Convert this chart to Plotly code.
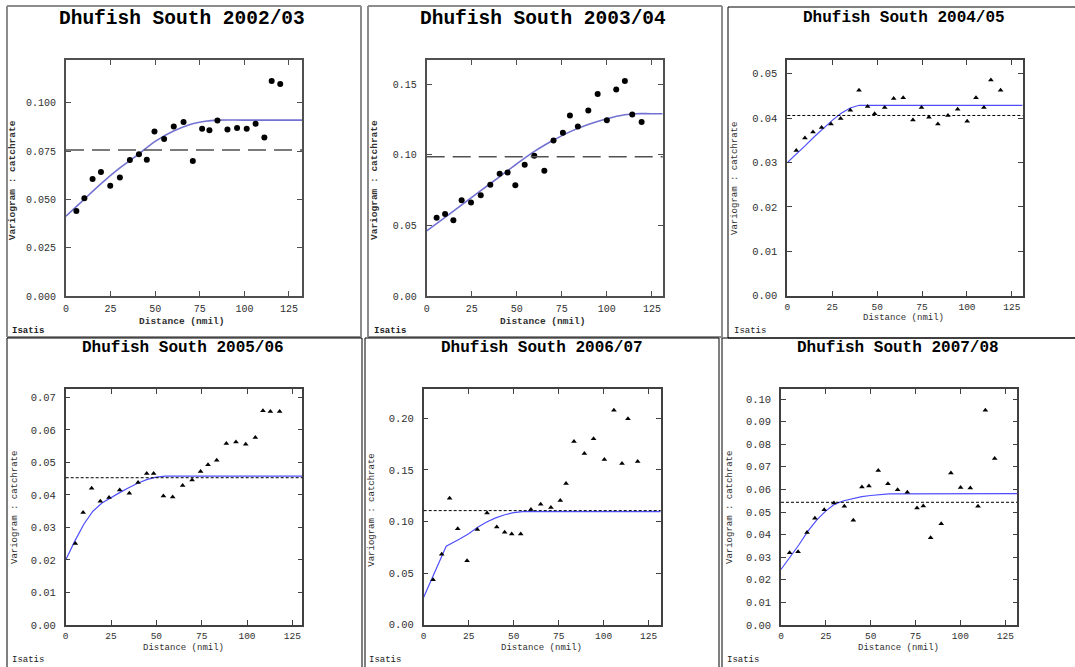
import plotly.graph_objects as go

# experimental variogram points (lag distance in nmil, variogram value)
lag_0203 = [5.8, 10.3, 14.9, 19.6, 24.8, 30.2, 35.8, 40.9, 45.3, 49.6, 55.0, 60.4,
            65.9, 71.1, 76.3, 80.4, 84.9, 90.5, 95.9, 101.3, 106.3, 111.2, 115.3, 120.1]
var_0203 = [0.0440, 0.0506, 0.0605, 0.0642, 0.0570, 0.0613, 0.0703, 0.0734, 0.0705, 0.0851,
            0.0812, 0.0877, 0.0900, 0.0698, 0.0865, 0.0857, 0.0908, 0.0862, 0.0869, 0.0865,
            0.0891, 0.0820, 0.1112, 0.1097]

lag_0304 = [5.5, 10.2, 14.8, 19.4, 24.6, 30.0, 35.3, 40.5, 44.9, 49.2, 54.4, 59.7,
            65.3, 70.4, 75.6, 79.5, 83.9, 89.7, 94.9, 100.0, 105.2, 110.0, 114.1, 119.3]
var_0304 = [0.0553, 0.0581, 0.0536, 0.0678, 0.0661, 0.0713, 0.0787, 0.0865, 0.0874, 0.0784,
            0.0928, 0.0992, 0.0886, 0.1101, 0.1155, 0.1278, 0.1200, 0.1313, 0.1429, 0.1243,
            0.1462, 0.1521, 0.1285, 0.1231]

lag_0405 = [5.0, 9.8, 14.3, 19.1, 24.3, 29.7, 35.1, 39.9, 44.7, 48.6, 54.2, 59.2,
            64.5, 69.9, 74.7, 78.8, 83.8, 89.4, 94.8, 100.1, 105.0, 109.4, 113.3, 118.7]
var_0405 = [0.0327, 0.0355, 0.0369, 0.0379, 0.0387, 0.0399, 0.0418, 0.0463, 0.0426, 0.0410,
            0.0424, 0.0444, 0.0446, 0.0396, 0.0424, 0.0402, 0.0387, 0.0406, 0.0420, 0.0393,
            0.0446, 0.0424, 0.0486, 0.0463]

lag_0506 = [5.3, 9.6, 14.3, 19.1, 23.9, 29.8, 35.1, 39.9, 44.7, 48.5, 53.9, 59.0,
            64.5, 69.7, 74.4, 78.5, 83.3, 88.6, 93.9, 99.3, 104.6, 108.8, 112.9, 118.0]
var_0506 = [0.0251, 0.0346, 0.0421, 0.0381, 0.0392, 0.0415, 0.0405, 0.0438, 0.0466, 0.0466,
            0.0397, 0.0394, 0.0429, 0.0446, 0.0472, 0.0493, 0.0507, 0.0558, 0.0563, 0.0556,
            0.0577, 0.0659, 0.0657, 0.0657]

lag_0607 = [5.2, 10.0, 14.4, 18.9, 24.1, 29.8, 35.2, 40.6, 45.0, 48.9, 53.9, 59.6,
            65.0, 70.7, 75.9, 79.1, 83.5, 89.3, 94.4, 100.4, 105.7, 110.2, 113.5, 118.9]
var_0607 = [0.0436, 0.0682, 0.1225, 0.0930, 0.0620, 0.0921, 0.1082, 0.0947, 0.0895, 0.0879,
            0.0879, 0.1115, 0.1166, 0.1134, 0.1202, 0.1367, 0.1774, 0.1657, 0.1800, 0.1599,
            0.2078, 0.1561, 0.1994, 0.1580]

lag_0708 = [4.8, 9.5, 14.5, 18.9, 24.1, 29.5, 35.3, 40.3, 45.1, 49.0, 54.2, 59.6,
            65.0, 70.4, 75.8, 79.3, 83.4, 89.3, 94.7, 100.1, 105.5, 109.8, 113.9, 119.1]
var_0708 = [0.0320, 0.0324, 0.0409, 0.0472, 0.0510, 0.0540, 0.0525, 0.0463, 0.0611, 0.0615,
            0.0684, 0.0625, 0.0599, 0.0587, 0.0518, 0.0527, 0.0386, 0.0448, 0.0673, 0.0609,
            0.0606, 0.0525, 0.0950, 0.0737]

# fitted model curves
mod_x_0203 = [0, 10, 20, 30, 40, 50, 60, 70, 78, 85, 100, 132.3]
mod_y_0203 = [0.0413, 0.0499, 0.0584, 0.0661, 0.0729, 0.0800, 0.0852, 0.0889, 0.0904, 0.0910,
              0.0910, 0.0910]

mod_x_0304 = [0, 10, 20, 30, 40, 50, 60, 70, 80, 90, 100, 110, 116, 124, 131]
mod_y_0304 = [0.0461, 0.0555, 0.0650, 0.0745, 0.0840, 0.0935, 0.1025, 0.1100, 0.1165, 0.1215,
              0.1255, 0.1283, 0.1290, 0.1290, 0.1290]

mod_x_0405 = [0, 5, 10, 15, 20, 25, 30, 35, 40, 131]
mod_y_0405 = [0.0300, 0.0318, 0.0338, 0.0358, 0.0377, 0.0395, 0.0411, 0.0423, 0.0429, 0.0429]

mod_x_0506 = [0, 5, 10, 15, 20, 25, 30, 35, 40, 45, 50, 55, 130.5]
mod_y_0506 = [0.0200, 0.0258, 0.0310, 0.0350, 0.0375, 0.0392, 0.0408, 0.0423, 0.0437, 0.0448,
              0.0455, 0.0458, 0.0458]

mod_x_0607 = [0, 5, 10, 12.5, 20, 25, 30, 35, 40, 45, 50, 55, 131.7]
mod_y_0607 = [0.0265, 0.0460, 0.0660, 0.0760, 0.0830, 0.0880, 0.0945, 0.0995, 0.1035, 0.1065,
              0.1085, 0.1095, 0.1095]

mod_x_0708 = [0, 5, 10, 15, 20, 25, 30, 35, 40, 45, 50, 55, 60, 131.7]
mod_y_0708 = [0.0246, 0.0300, 0.0355, 0.0415, 0.0465, 0.0505, 0.0535, 0.0550, 0.0560, 0.0568,
              0.0573, 0.0577, 0.0580, 0.0581]

# experimental variance (horizontal reference line)
variance = [0.0756, 0.0985, 0.0406, 0.0453, 0.1105, 0.0543]

titles = ['Dhufish South 2002/03', 'Dhufish South 2003/04', 'Dhufish South 2004/05',
          'Dhufish South 2005/06', 'Dhufish South 2006/07', 'Dhufish South 2007/08']
x_max = [132.3, 131, 131, 130.5, 131.7, 131.7]
y_max = [0.1221, 0.167, 0.0531, 0.0725, 0.228, 0.1043]
y_step = [0.025, 0.05, 0.01, 0.01, 0.05, 0.01]
y_fmt = ['.3f', '.2f', '.2f', '.2f', '.2f', '.2f']

lags = [lag_0203, lag_0304, lag_0405, lag_0506, lag_0607, lag_0708]
vals = [var_0203, var_0304, var_0405, var_0506, var_0607, var_0708]
mod_x = [mod_x_0203, mod_x_0304, mod_x_0405, mod_x_0506, mod_x_0607, mod_x_0708]
mod_y = [mod_y_0203, mod_y_0304, mod_y_0405, mod_y_0506, mod_y_0607, mod_y_0708]

W, H = 1075, 667
FONT = 'Liberation Mono, Courier New, monospace'


def px(x):
    return x / W


def py(y):
    return 1 - y / H


# pixel layout of each panel
boxes = [(66, 60, 302, 296), (426.7, 60, 662.7, 296), (787.3, 60, 1022.7, 295.7),
         (65.7, 389.3, 302.3, 625), (423.7, 389.3, 660.7, 624.7), (781, 389.3, 1017.3, 625)]
frames = [(7, 6, 361, 337), (368, 6, 722, 337), (728, 7, None, 338),
          (7, 338, 362, None), (365, 338, 719, None), (722, 338, None, None)]
title_pos = [(181.7, 19), (542.5, 19), (904, 18), (182.8, 348), (541.5, 348), (898, 348)]
xt_pos = [(182, 321), (543.3, 321), (903.8, 318), (183.3, 648), (541, 648), (898, 648)]
yt_pos = [(13.3, 180), (375, 180), (735, 179), (15, 508), (371.7, 510), (730, 508)]
isatis_pos = [(10, 331), (371.7, 331), (731.7, 331), (10, 660), (367, 660), (725, 660)]

fig = go.Figure()
annotations = []
shapes = []

for i in range(6):
    n = str(i + 1) if i else ''
    big = i < 2
    x0, y0, x1, y1 = boxes[i]
    line_col = '#505050' if big else '#404040'
    xtick_font = dict(family=FONT, size=10 if big else 9.5, color='#303030')
    ytick_font = dict(family=FONT, size=10 if big else 10.5, color='#303030')
    fig.update_layout({
        'xaxis' + n: dict(domain=[px(x0), px(x1)], range=[0, x_max[i]], dtick=25,
                          anchor='y' + n, ticks='inside', ticklen=5, mirror='ticks',
                          showline=True, linecolor=line_col, linewidth=2 if big else 1.5,
                          tickcolor=line_col, showgrid=False, zeroline=False,
                          automargin=False, ticklabelstandoff=2 if big else 1,
                          tickfont=xtick_font),
        'yaxis' + n: dict(domain=[py(y1), py(y0)], range=[0, y_max[i]], dtick=y_step[i],
                          tickformat=y_fmt[i], anchor='x' + n, ticks='inside', ticklen=5,
                          mirror='ticks', showline=True, linecolor=line_col,
                          linewidth=2 if big else 1.5, tickcolor=line_col, showgrid=False,
                          zeroline=False, automargin=False, ticklabelstandoff=6,
                          tickfont=ytick_font),
    })

    fig.add_trace(go.Scatter(
        x=mod_x[i], y=mod_y[i], mode='lines',
        line=dict(color='#7272d2' if big else '#4f4fff', width=1.6 if big else 1.2,
                  shape='spline' if big else 'linear', smoothing=0.8),
        xaxis='x' + n, yaxis='y' + n, showlegend=False, hoverinfo='skip'))
    fig.add_trace(go.Scatter(
        x=lags[i], y=vals[i], mode='markers',
        marker=dict(color='black', size=6 if big else 5,
                    symbol='circle' if big else 'triangle-up'),
        xaxis='x' + n, yaxis='y' + n, showlegend=False))

    shapes.append(dict(type='line', xref='x' + n + ' domain', yref='y' + n,
                       x0=0, x1=1, y0=variance[i], y1=variance[i],
                       line=dict(color='#505050' if big else 'black',
                                 width=1.5 if big else 1,
                                 dash='18px,8px' if big else '3px,2px')))

    # panel frame: only the edges that lie inside the page
    fx0, fy0, fx1, fy1 = frames[i]
    right = fx1 if fx1 is not None else W
    bottom = fy1 if fy1 is not None else H
    edges = [(fx0, fy0, fx0, bottom), (fx0, fy0, right, fy0)]
    if fx1 is not None:
        edges.append((fx1, fy0, fx1, bottom))
    if fy1 is not None:
        edges.append((fx0, fy1, right, fy1))
    for ex0, ey0, ex1, ey1 in edges:
        shapes.append(dict(type='line', xref='paper', yref='paper',
                           x0=px(ex0), x1=px(ex1), y0=py(ey0), y1=py(ey1),
                           line=dict(color='#8c8c8c' if big else 'black',
                                     width=2 if big else 1),
                           layer='below'))

    tx, ty = title_pos[i]
    annotations.append(dict(text='<b>' + titles[i] + '</b>', x=px(tx), y=py(ty),
                            xref='paper', yref='paper', showarrow=False,
                            xanchor='center', yanchor='middle',
                            font=dict(family=FONT, size=19.5 if big else 16, color='black')))
    ax_font = dict(family=FONT, size=9.5 if big else 9, color='#303030')
    ax_txt = '<b>Distance (nmil)</b>' if big else 'Distance (nmil)'
    ay_txt = '<b>Variogram : catchrate</b>' if big else 'Variogram : catchrate'
    annotations.append(dict(text=ax_txt, x=px(xt_pos[i][0]), y=py(xt_pos[i][1]),
                            xref='paper', yref='paper', showarrow=False,
                            xanchor='center', yanchor='middle', font=ax_font))
    annotations.append(dict(text=ay_txt, x=px(yt_pos[i][0]), y=py(yt_pos[i][1]),
                            xref='paper', yref='paper', showarrow=False, textangle=-90,
                            xanchor='center', yanchor='middle', font=ax_font))
    annotations.append(dict(text='<b>Isatis</b>' if big else 'Isatis',
                            x=px(isatis_pos[i][0]), y=py(isatis_pos[i][1]),
                            xref='paper', yref='paper', xanchor='left', yanchor='middle',
                            showarrow=False,
                            font=dict(family=FONT, size=9, color='#202020')))

fig.update_layout(
    width=W, height=H,
    margin=dict(l=0, r=0, t=0, b=0),
    paper_bgcolor='white', plot_bgcolor='white',
    shapes=shapes, annotations=annotations,
)

# drop the browser's default page margin so the figure sits at the top-left corner
fig.write_html("out.html", config={'displayModeBar': False},
               post_script="document.body.style.margin='0px';"
                           "document.body.style.overflow='hidden';"
                           "document.documentElement.style.overflow='hidden';")
